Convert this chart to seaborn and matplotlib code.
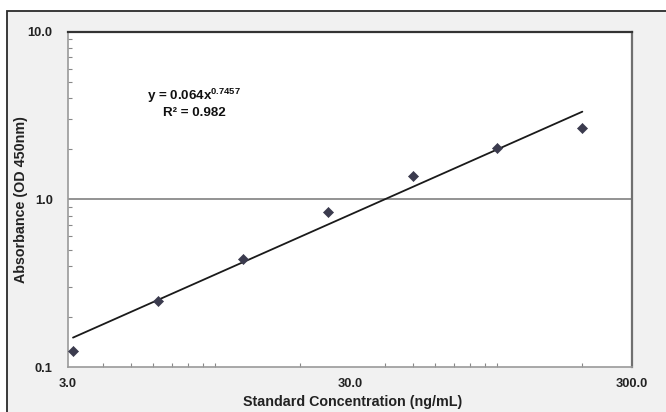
import numpy as np
import pandas as pd
import matplotlib
matplotlib.use("Agg")
import matplotlib.pyplot as plt
import matplotlib.ticker as mticker
from matplotlib.patches import Rectangle
import seaborn as sns

# Data
concentration = [3.125, 6.25, 12.5, 25.0, 50.0, 100.0, 200.0]
absorbance = [0.125, 0.248, 0.441, 0.837, 1.37, 2.02, 2.67]
fit_a = 0.064
fit_b = 0.7457
equation_text = "y = 0.064x"
equation_exp = "0.7457"
r2_text = "R\u00b2 = 0.982"
x_ticks = [3.0, 30.0, 300.0]
x_ticklabels = ["3.0", "30.0", "300.0"]
y_ticks = [0.1, 1.0, 10.0]
y_ticklabels = ["0.1", "1.0", "10.0"]
x_label = "Standard Concentration (ng/mL)"
y_label = "Absorbance (OD 450nm)"

sns.set_theme(style="white")
plt.rcParams["font.family"] = ["Liberation Sans", "DejaVu Sans"]
plt.rcParams["mathtext.fontset"] = "custom"
plt.rcParams["mathtext.rm"] = "Liberation Sans:bold"
plt.rcParams["mathtext.bf"] = "Liberation Sans:bold"

W, H = 666, 412
fig = plt.figure(figsize=(W / 100, H / 100), dpi=100, facecolor="white")

# chart area background with border (top & left visible)
bg = Rectangle((7 / W, -0.05), 1.1, (H - 11) / H + 0.05, transform=fig.transFigure,
               facecolor="#f1f1f1", edgecolor="#2a2a2a", linewidth=1.3, zorder=-10)
fig.patches.append(bg)

L, R, T, B = 68, 632, 31.5, 367
ax = fig.add_axes([L / W, 1 - B / H, (R - L) / W, (B - T) / H])
ax.set_zorder(5)
ax.set_facecolor("white")

df = pd.DataFrame({"conc": concentration, "abs": absorbance})
xfit = np.logspace(np.log10(min(concentration)), np.log10(max(concentration)), 50)
fit_df = pd.DataFrame({"conc": xfit, "abs": fit_a * xfit ** fit_b})

ax.set_xscale("log")
ax.set_yscale("log")

sns.lineplot(data=fit_df, x="conc", y="abs", ax=ax, color="#1a1a1a", linewidth=1.3, zorder=3)
sns.scatterplot(data=df, x="conc", y="abs", ax=ax, marker="D", s=26, color="#3b3b4e",
                edgecolor="#3b3b4e", linewidth=0.5, zorder=4)

ax.set_xlim(3.0, 300.0)
ax.set_ylim(0.1, 10.0)

ax.xaxis.set_major_locator(mticker.FixedLocator(x_ticks))
ax.xaxis.set_major_formatter(mticker.FixedFormatter(x_ticklabels))
ax.yaxis.set_major_locator(mticker.FixedLocator(y_ticks))
ax.yaxis.set_major_formatter(mticker.FixedFormatter(y_ticklabels))
ax.xaxis.set_minor_locator(mticker.LogLocator(base=10, subs=np.arange(1, 10)))
ax.yaxis.set_minor_locator(mticker.LogLocator(base=10, subs=np.arange(1, 10)))
ax.xaxis.set_minor_formatter(mticker.NullFormatter())
ax.yaxis.set_minor_formatter(mticker.NullFormatter())

ax.tick_params(axis="x", which="major", length=0, pad=8, labelsize=9.3,
               labelcolor="#222222")
ax.tick_params(axis="y", which="major", length=0, pad=11, labelsize=9.3,
               labelcolor="#222222")
ax.tick_params(axis="both", which="minor", direction="in", length=3, width=0.8,
               color="#888888", bottom=True, left=True, top=False, right=False)
for lab in ax.get_xticklabels() + ax.get_yticklabels():
    lab.set_fontweight("bold")

ax.axhline(1.0, color="#808080", linewidth=1.2, zorder=1)

for side, col, lw in [("top", "#333333", 1.6), ("right", "#707070", 1.6),
                      ("bottom", "#9a9a9a", 1.2), ("left", "#9a9a9a", 1.2)]:
    ax.spines[side].set_visible(True)
    ax.spines[side].set_color(col)
    ax.spines[side].set_linewidth(lw)

ax.set_xlabel(x_label, fontsize=10.3, fontweight="bold", color="#222222")
ax.set_ylabel(y_label, fontsize=10.3, fontweight="bold", color="#222222")
ax.xaxis.set_label_coords(0.504, -(395 - B) / (B - T))
ax.yaxis.set_label_coords((28 - L) / (R - L), 0.5)

ax.text(194 / W, 1 - 96 / H, equation_text + r"$^{" + equation_exp + "}$",
        transform=fig.transFigure, ha="center", va="center", fontsize=9.6,
        fontweight="bold", color="#111111")
ax.text(194 / W, 1 - 112.5 / H, r2_text, transform=fig.transFigure, ha="center",
        va="center", fontsize=9.6, fontweight="bold", color="#111111")

if ax.get_legend() is not None:
    ax.get_legend().remove()
fig.savefig("out.png", dpi=100, facecolor=fig.get_facecolor())
